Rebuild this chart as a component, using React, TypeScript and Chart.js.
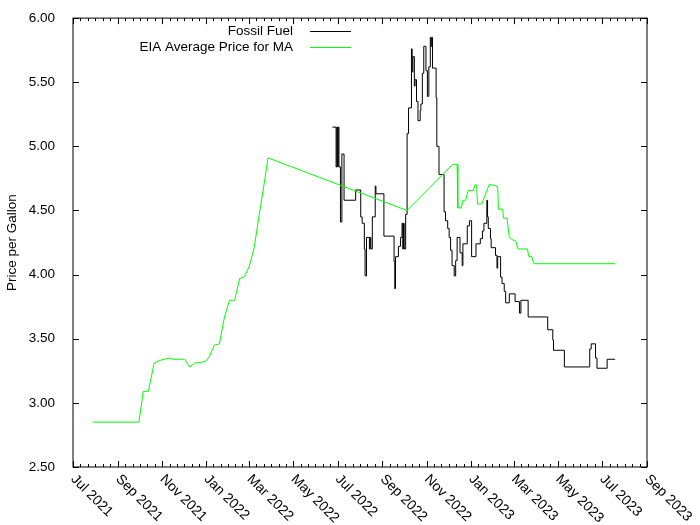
import React, { useEffect, useRef } from 'react';
import { Chart, registerables } from 'chart.js';

Chart.register(...registerables);

// ---- Data ----
const seriesNames = ['Fossil Fuel', 'EIA Average Price for MA'];

const fossilDates = [
  '2022-06-24', '2022-06-29', '2022-06-30', '2022-07-01', '2022-07-02', '2022-07-03',
  '2022-07-05', '2022-07-07', '2022-07-10', '2022-07-26', '2022-08-02', '2022-08-04',
  '2022-08-07', '2022-08-08', '2022-08-10', '2022-08-14', '2022-08-15', '2022-08-16',
  '2022-08-18', '2022-08-22', '2022-08-23', '2022-09-03', '2022-09-17', '2022-09-18',
  '2022-09-19', '2022-09-23', '2022-09-26', '2022-09-28', '2022-09-29', '2022-09-30',
  '2022-10-01', '2022-10-03', '2022-10-05', '2022-10-07', '2022-10-11', '2022-10-12',
  '2022-10-13', '2022-10-15', '2022-10-16', '2022-10-18', '2022-10-20', '2022-10-23',
  '2022-10-24', '2022-10-26', '2022-10-28', '2022-10-31', '2022-11-02', '2022-11-04',
  '2022-11-06', '2022-11-07', '2022-11-08', '2022-11-09', '2022-11-14', '2022-11-15',
  '2022-11-18', '2022-11-25', '2022-11-27', '2022-11-30', '2022-12-02', '2022-12-04',
  '2022-12-06', '2022-12-09', '2022-12-11', '2022-12-13', '2022-12-17', '2022-12-20',
  '2022-12-21', '2022-12-27', '2022-12-30', '2023-01-02', '2023-01-08', '2023-01-14',
  '2023-01-17', '2023-01-19', '2023-01-23', '2023-01-24', '2023-01-25', '2023-01-28',
  '2023-01-29', '2023-02-04', '2023-02-06', '2023-02-07', '2023-02-11', '2023-02-13',
  '2023-02-16', '2023-02-18', '2023-02-23', '2023-03-03', '2023-03-09', '2023-03-11',
  '2023-03-21', '2023-04-17', '2023-04-24', '2023-04-25', '2023-05-10', '2023-06-14',
  '2023-06-16', '2023-06-22', '2023-06-24', '2023-07-08', '2023-07-19',
];
const fossilPrices = [
  5.15, 4.84, 5.15, 4.84, 5.15, 4.84,
  4.41, 4.94, 4.58, 4.66, 4.45, 4.40,
  4.20, 3.99, 4.29, 4.20, 4.29, 4.20,
  4.45, 4.69, 4.63, 4.30, 4.10, 3.89,
  4.14, 4.22, 4.29, 4.40, 4.20, 4.40,
  4.20, 4.47, 5.10, 5.30, 5.76, 5.58,
  5.70, 5.47, 5.52, 5.35, 5.20, 5.28,
  5.33, 5.57, 5.78, 5.59, 5.39, 5.62,
  5.85, 5.78, 5.85, 5.61, 5.38, 5.00,
  4.78, 4.49, 4.42, 4.36, 4.29, 4.19,
  4.07, 3.99, 4.11, 4.29, 4.17, 4.07,
  4.24, 4.38, 4.42, 4.14, 4.24, 4.28,
  4.34, 4.40, 4.58, 4.45, 4.36, 4.28,
  4.21, 4.15, 4.05, 4.14, 3.98, 3.93,
  3.87, 3.78, 3.85, 3.79, 3.70, 3.80,
  3.67, 3.57, 3.49, 3.41, 3.28, 3.42,
  3.46, 3.35, 3.27, 3.34, 3.34,
];

const eiaDates = [
  '2021-07-28', '2021-09-30', '2021-10-06', '2021-10-13', '2021-10-21', '2021-10-28',
  '2021-11-11', '2021-11-16', '2021-12-02', '2021-12-09', '2021-12-16', '2021-12-28',
  '2022-01-01', '2022-01-05', '2022-01-12', '2022-01-19', '2022-01-26', '2022-02-02',
  '2022-02-09', '2022-02-16', '2022-02-22', '2022-03-01', '2022-03-08', '2022-03-15',
  '2022-03-21', '2022-03-27', '2022-10-05', '2022-12-07', '2022-12-13', '2022-12-14',
  '2022-12-19', '2022-12-21', '2022-12-25', '2022-12-28', '2023-01-04', '2023-01-07',
  '2023-01-09', '2023-01-10', '2023-01-16', '2023-01-18', '2023-01-26', '2023-01-31',
  '2023-02-07', '2023-02-08', '2023-02-14', '2023-02-15', '2023-02-20', '2023-02-23',
  '2023-02-28', '2023-03-04', '2023-03-07', '2023-03-20', '2023-03-22', '2023-03-26',
  '2023-03-29', '2023-07-19',
];
const eiaPrices = [
  2.85, 2.85, 3.09, 3.09, 3.31, 3.33,
  3.35, 3.34, 3.34, 3.28, 3.31, 3.32,
  3.33, 3.36, 3.45, 3.46, 3.67, 3.80,
  3.80, 3.97, 3.98, 4.06, 4.21, 4.47,
  4.68, 4.91, 4.50, 4.86, 4.86, 4.52,
  4.52, 4.58, 4.58, 4.655, 4.655, 4.70,
  4.70, 4.55, 4.55, 4.58, 4.70, 4.70,
  4.685, 4.51, 4.51, 4.44, 4.44, 4.29,
  4.27, 4.26, 4.20, 4.20, 4.14, 4.14,
  4.085, 4.085,
];

const xTickDates = [
  '2021-07-01', '2021-09-01', '2021-11-01', '2022-01-01', '2022-03-01', '2022-05-01',
  '2022-07-01', '2022-09-01', '2022-11-01', '2023-01-01', '2023-03-01', '2023-05-01',
  '2023-07-01', '2023-09-01',
];
const xTickLabels = [
  'Jul 2021', 'Sep 2021', 'Nov 2021', 'Jan 2022', 'Mar 2022', 'May 2022',
  'Jul 2022', 'Sep 2022', 'Nov 2022', 'Jan 2023', 'Mar 2023', 'May 2023',
  'Jul 2023', 'Sep 2023',
];
const yTicks = [2.5, 3.0, 3.5, 4.0, 4.5, 5.0, 5.5, 6.0];
const yTitle = 'Price per Gallon';

const FONT = "'Liberation Sans', Arial, sans-serif";
const FONT_SIZE = 13.5;
const XLABEL_SIZE = 14;

const toMs = (d: string) => Date.parse(d + 'T00:00:00Z');

const framePlugin = {
  id: 'gnuplotFrame',
  afterDraw(chart: any) {
    const ctx = chart.ctx as CanvasRenderingContext2D;
    const { left, right, top, bottom } = chart.chartArea;
    const xs = chart.scales.x;
    const ys = chart.scales.y;
    ctx.save();
    ctx.strokeStyle = '#000';
    ctx.lineWidth = 1;
    // border
    ctx.strokeRect(left, top, right - left, bottom - top);

    const vTick = (px: number, len: number) => {
      const x = Math.round(px) + 0.5;
      ctx.beginPath();
      ctx.moveTo(x, bottom);
      ctx.lineTo(x, bottom - len);
      ctx.moveTo(x, top);
      ctx.lineTo(x, top + len);
      ctx.stroke();
    };
    const majors = xTickDates.map(toMs);
    majors.forEach((m, i) => {
      vTick(xs.getPixelForValue(m), 6);
      if (i < majors.length - 1) {
        const step = (majors[i + 1] - m) / 6;
        for (let k = 1; k < 6; k++) vTick(xs.getPixelForValue(m + k * step), 3);
      }
    });
    yTicks.forEach((v) => {
      const y = Math.round(ys.getPixelForValue(v)) + 0.5;
      ctx.beginPath();
      ctx.moveTo(left, y);
      ctx.lineTo(left + 6, y);
      ctx.moveTo(right, y);
      ctx.lineTo(right - 6, y);
      ctx.stroke();
    });

    // x labels rotated -45 (clockwise)
    ctx.fillStyle = '#000';
    ctx.font = `${XLABEL_SIZE}px ${FONT}`;
    ctx.textAlign = 'left';
    ctx.textBaseline = 'middle';
    majors.forEach((m, i) => {
      const px = xs.getPixelForValue(m);
      ctx.save();
      ctx.translate(px, bottom + 10);
      ctx.rotate(Math.PI / 4);
      ctx.fillText(xTickLabels[i], 0, 0);
      ctx.restore();
    });

    // legend
    ctx.font = `${FONT_SIZE}px ${FONT}`;
    const colors = ['#000000', '#00ff00'];
    ctx.textAlign = 'right';
    seriesNames.forEach((name, i) => {
      const y = 31 + i * 16;
      ctx.fillText(name, 293, y);
      ctx.strokeStyle = colors[i];
      ctx.beginPath();
      ctx.moveTo(310, y + 0.5);
      ctx.lineTo(351, y + 0.5);
      ctx.stroke();
    });
    ctx.restore();
  },
};

export default function App() {
  const canvasRef = useRef<HTMLCanvasElement | null>(null);

  useEffect(() => {
    if (!canvasRef.current) return;
    const chart = new Chart(canvasRef.current, {
      type: 'line',
      data: {
        datasets: [
          {
            label: seriesNames[0],
            data: fossilDates.map((d, i) => ({ x: toMs(d), y: fossilPrices[i] })),
            borderColor: '#000000',
            borderWidth: 1,
            pointRadius: 0,
            stepped: 'before',
            order: 1,
          },
          {
            label: seriesNames[1],
            data: eiaDates.map((d, i) => ({ x: toMs(d), y: eiaPrices[i] })),
            borderColor: '#00ff00',
            borderWidth: 1,
            pointRadius: 0,
            tension: 0,
            order: 0,
          },
        ],
      },
      options: {
        responsive: false,
        animation: false,
        events: [],
        layout: { padding: { top: 17, right: 53, bottom: 0, left: 0 } },
        plugins: { legend: { display: false }, tooltip: { enabled: false } },
        scales: {
          x: {
            type: 'linear',
            min: toMs(xTickDates[0]),
            max: toMs(xTickDates[xTickDates.length - 1]),
            grid: { display: false },
            border: { display: false },
            ticks: { display: false },
            afterBuildTicks: (s: any) => {
              s.ticks = xTickDates.map((d) => ({ value: toMs(d) }));
            },
            afterFit: (s: any) => {
              s.height = 58;
            },
          },
          y: {
            min: 2.5,
            max: 6,
            grid: { display: false },
            border: { display: false },
            ticks: {
              padding: 10,
              color: '#000',
              font: { family: FONT, size: FONT_SIZE },
              callback: (v: any) => Number(v).toFixed(2),
            },
            afterBuildTicks: (s: any) => {
              s.ticks = yTicks.map((v) => ({ value: v }));
            },
            afterFit: (s: any) => {
              s.width = 73;
            },
            title: {
              display: true,
              text: yTitle,
              color: '#000',
              font: { family: FONT, size: FONT_SIZE },
              padding: { top: 4, bottom: 0 },
            },
          },
        },
      },
      plugins: [framePlugin],
    });
    return () => chart.destroy();
  }, []);

  return (
    <div style={{ position: 'fixed', left: 0, top: 0, width: 700, height: 525, background: '#fff' }}>
      <canvas ref={canvasRef} width={700} height={525} style={{ display: 'block' }} />
    </div>
  );
}
